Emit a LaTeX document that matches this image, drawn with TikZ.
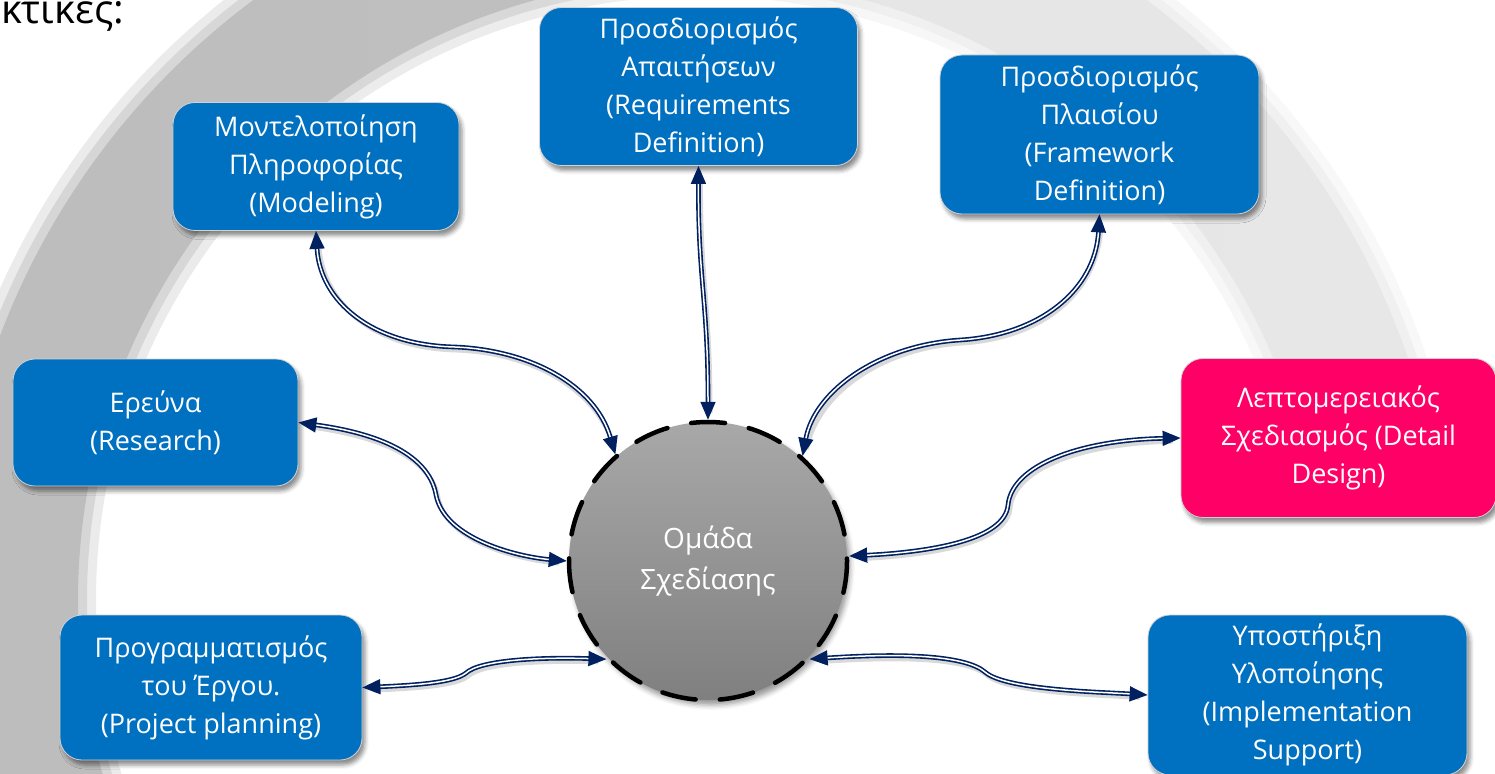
\documentclass[tikz,border=0pt]{standalone}
\usepackage{fontspec}
\setmainfont{Open Sans}
\usetikzlibrary{arrows.meta,shadows.blur}
\definecolor{boxblue}{HTML}{0070C0}
\definecolor{boxpink}{HTML}{FF0066}
\definecolor{navy}{HTML}{002060}
\pgfdeclarehorizontalshading{bandshade}{100bp}{color(0bp)=(gray!55); color(44bp)=(gray!50); color(56bp)=(gray!20); color(100bp)=(gray!17)}
\newcommand\linkcurve[1]{\draw[connshadow] #1; \draw[conn] #1;}
\begin{document}
\begin{tikzpicture}[x=1pt,y=-1pt,
  box/.style={rounded corners=22pt, fill=boxblue, draw=gray!35, line width=0.8pt,
    text=white, align=center, font=\fontsize{27}{38}\selectfont, inner sep=0pt,
    blur shadow={shadow xshift=3pt, shadow yshift=-5pt, shadow blur radius=4pt, shadow opacity=45}},
  conn/.style={draw=navy, line width=1.6pt, double=white, double distance=1.5pt,
    {Triangle[length=18pt,width=15pt]}-{Triangle[length=18pt,width=15pt]}},
  connshadow/.style={draw=black, draw opacity=0.15, line width=5pt, shorten <=10pt, shorten >=10pt,
    transform canvas={shift={(2pt,-3pt)}}},
]
\useasboundingbox (0,0) rectangle (1495,773);
\clip (0,0) rectangle (1495,773);
% background band
\begin{scope}
  \clip (-100,-300) rectangle (1600,495) (-100,495) rectangle (1000,900);
  \shade[shading=bandshade, even odd rule, fill opacity=0.3] (700,600) circle (766) (700,600) circle (604);
  \shade[shading=bandshade, even odd rule, fill opacity=0.45] (700,600) circle (757) (700,600) circle (613);
  \shade[shading=bandshade, even odd rule] (700,600) circle (748) (700,600) circle (622);
\end{scope}
% title fragment
\node[anchor=base west, inner sep=0pt, font=\fontsize{40}{48}\selectfont] (hdr) at (1,24) {κτικές:};
% boxes
\node[box, minimum width=318pt, minimum height=158pt] (req) at (698.5,86.5) {Προσδιορισμός\\Απαιτήσεων\\(Requirements\\Definition)};
\node[box, minimum width=286pt, minimum height=128pt] (mod) at (316,166.5) {Μοντελοποίηση\\Πληροφορίας\\(Modeling)};
\node[box, minimum width=319pt, minimum height=159pt] (frame) at (1099.5,134.5) {Προσδιορισμός\\Πλαισίου\\(Framework\\Definition)};
\node[box, minimum width=285pt, minimum height=127pt] (res) at (155.5,422.5) {Ερεύνα\\(Research)};
\node[box, fill=boxpink, minimum width=315pt, minimum height=159pt] (det) at (1338.5,438) {Λεπτομερειακός\\Σχεδιασμός (Detail\\Design)};
\node[box, minimum width=302pt, minimum height=145pt] (proj) at (211,687.5) {Προγραμματισμός\\του Έργου.\\(Project planning)};
\node[box, minimum width=319pt, minimum height=160pt] (impl) at (1307.5,695) {Υποστήριξη\\Υλοποίησης\\(Implementation\\Support)};
% centre
\node[circle, minimum size=278pt, top color=gray!68, bottom color=gray, draw=black,
  line width=4.5pt, dash pattern=on 34pt off 24.2pt, dash phase=31.5pt, line cap=round,
  text=white, align=center, font=\fontsize{28}{41}\selectfont,
  blur shadow={shadow xshift=3pt, shadow yshift=-5pt, shadow blur radius=5pt, shadow opacity=40}] (c) at (708,561) {Ομάδα\\Σχεδίασης};
% connectors
\linkcurve{(mod.south) .. controls (320,300) and (370,345) .. (455,347) .. controls (530,350) and (595,385) .. (c.131)}
\linkcurve{(req.south) .. controls (698,280) and (708,300) .. (c.90)}
\linkcurve{(frame.south) .. controls (1095,290) and (1040,335) .. (960,340) .. controls (880,345) and (815,390) .. (c.48)}
\linkcurve{(res.east) .. controls (390,435) and (430,460) .. (436,495) .. controls (445,540) and (520,557) .. (c.180)}
\linkcurve{(c.2) .. controls (930,552) and (1005,540) .. (1008,505) .. controls (1012,465) and (1080,440) .. (det.west)}
\linkcurve{(proj.east) .. controls (420,685) and (455,682) .. (466,673) .. controls (480,660) and (540,657) .. (c.224)}
\linkcurve{(c.316) .. controls (900,653) and (965,655) .. (985,672) .. controls (1005,690) and (1100,692) .. (impl.west)}
\end{tikzpicture}
\end{document}
